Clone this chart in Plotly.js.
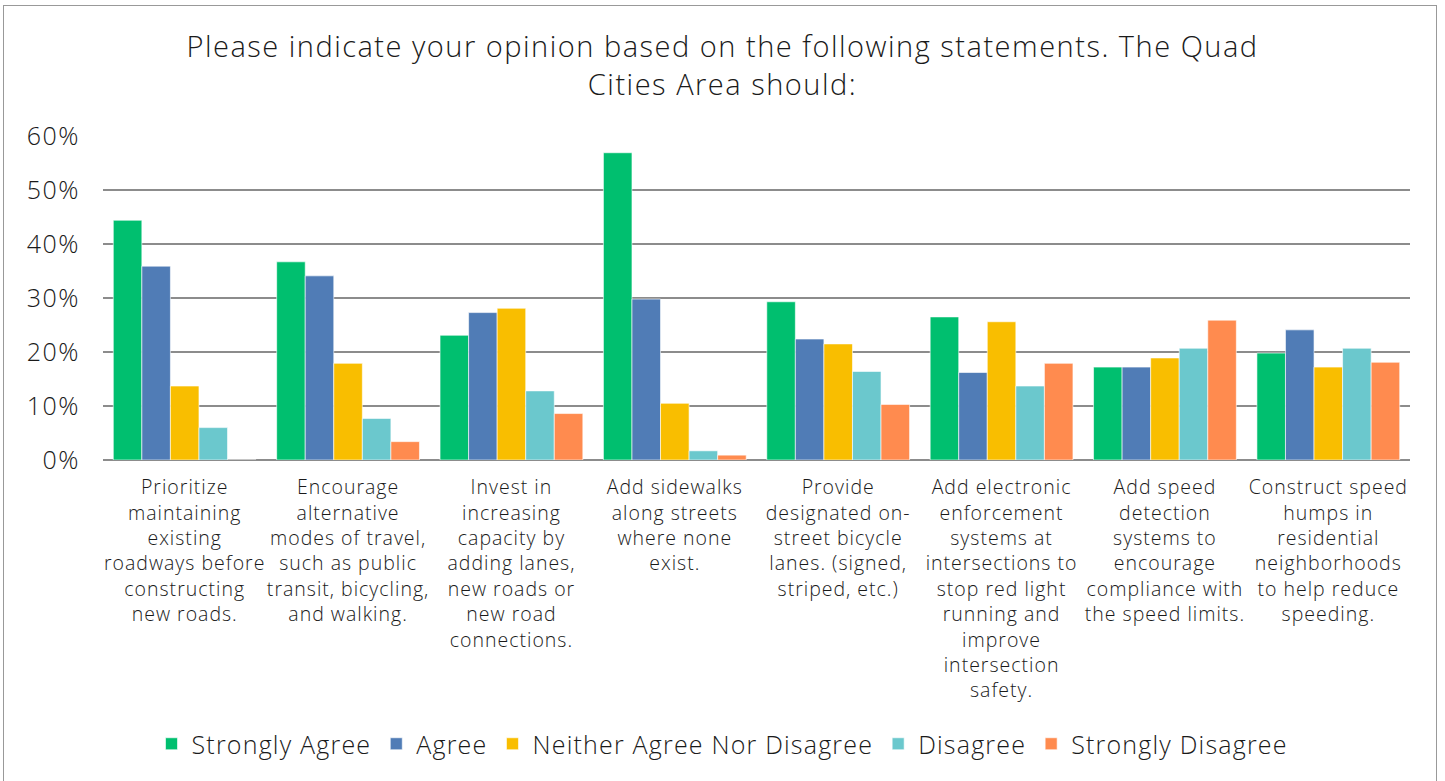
<!DOCTYPE html>
<html>
<head>
<meta charset="utf-8">
<script src="https://cdn.plot.ly/plotly-3.0.1.min.js"></script>
<style>
html,body{margin:0;padding:0;background:#fff;}
#frame{position:absolute;left:3px;top:5px;width:1434px;height:800px;border:1px solid #999;box-sizing:border-box;}
#chart{position:absolute;left:0;top:0;width:1445px;height:781px;}
svg text{letter-spacing:1.2px;}
#chart .gtitle{letter-spacing:1.5px;}
#chart .xtick text{letter-spacing:1px;}
#chart .ytick text{letter-spacing:1.5px;}
</style>
</head>
<body>
<div id="frame"></div>
<div id="chart"></div>
<script>
const categories = [
  "Prioritize<br>maintaining<br>existing<br>roadways before<br>constructing<br>new roads.",
  "Encourage<br>alternative<br>modes of travel,<br>such as public<br>transit, bicycling,<br>and walking.",
  "Invest in<br>increasing<br>capacity by<br>adding lanes,<br>new roads or<br>new road<br>connections.",
  "Add sidewalks<br>along streets<br>where none<br>exist.",
  "Provide<br>designated on-<br>street bicycle<br>lanes. (signed,<br>striped, etc.)",
  "Add electronic<br>enforcement<br>systems at<br>intersections to<br>stop red light<br>running and<br>improve<br>intersection<br>safety.",
  "Add speed<br>detection<br>systems to<br>encourage<br>compliance with<br>the speed limits.",
  "Construct speed<br>humps in<br>residential<br>neighborhoods<br>to help reduce<br>speeding."
];
const seriesNames = ["Strongly Agree","Agree","Neither Agree Nor Disagree","Disagree","Strongly Disagree"];
const stronglyAgree = [44.4, 36.7, 23.1, 56.9, 29.3, 26.5, 17.2, 19.8];
const agree         = [35.9, 34.1, 27.3, 29.8, 22.4, 16.2, 17.2, 24.1];
const neither       = [13.7, 17.9, 28.1, 10.5, 21.5, 25.6, 18.9, 17.2];
const disagree      = [ 6.0,  7.7, 12.8,  1.7, 16.4, 13.7, 20.7, 20.7];
const stronglyDis   = [ 0.0,  3.4,  8.6,  0.9, 10.3, 17.9, 25.9, 18.1];
const colors = ["#00BF6F","#507CB6","#F9BE00","#6BC8CD","#FF8B4F"];
const yTickVals = [0,10,20,30,40,50,60];
const yTickText = ["0%","10%","20%","30%","40%","50%","60%"];

const allValues = [stronglyAgree, agree, neither, disagree, stronglyDis];
const font = "'Open Sans', sans-serif";
const traces = allValues.map((vals,i)=>({
  type:'bar', name:seriesNames[i], x:categories, y:vals,
  marker:{color:colors[i], line:{color:'rgba(255,255,255,0.6)', width:1}},
  hoverinfo:'y+name'
}));

const layout = {
  width:1445, height:781,
  paper_bgcolor:'rgba(0,0,0,0)', plot_bgcolor:'rgba(0,0,0,0)',
  margin:{l:103, r:35, t:136, b:321},
  font:{family:font, color:'#1a1a1a', weight:300},
  title:{text:"Please indicate your opinion based on the following statements. The Quad<br>Cities Area should:",
    font:{family:font, size:29, color:'#1a1a1a', weight:300},
    x:0.5, xanchor:'center', xref:'container', y:1-57/781, yanchor:'top', yref:'container'},
  barmode:'group', bargap:0.126, bargroupgap:0,
  xaxis:{type:'category', tickfont:{size:19.5, family:font, color:'#1a1a1a', weight:300},
    ticks:'outside', ticklen:10, tickcolor:'rgba(0,0,0,0)', showline:false, showgrid:false, tickangle:0, automargin:false},
  yaxis:{range:[0,60], tickvals:yTickVals, ticktext:yTickText, tickfont:{size:25, family:font, color:'#1a1a1a', weight:300},
    showgrid:true, gridcolor:'#8c8c8c', gridwidth:1.5, zeroline:true, zerolinecolor:'#8c8c8c', zerolinewidth:1.5,
    ticks:'outside', ticklen:17, tickcolor:'rgba(0,0,0,0)', automargin:false, fixedrange:true},
  legend:{orientation:'h', x:0.5, xanchor:'center', xref:'container', y:(781-744)/781, yanchor:'middle', yref:'container',
    font:{size:25, family:font, color:'#1a1a1a', weight:300}, itemwidth:30, traceorder:'normal'},
  showlegend:true
};
Plotly.newPlot('chart', traces, layout, {displayModeBar:false, staticPlot:true});
</script>
</body>
</html>
